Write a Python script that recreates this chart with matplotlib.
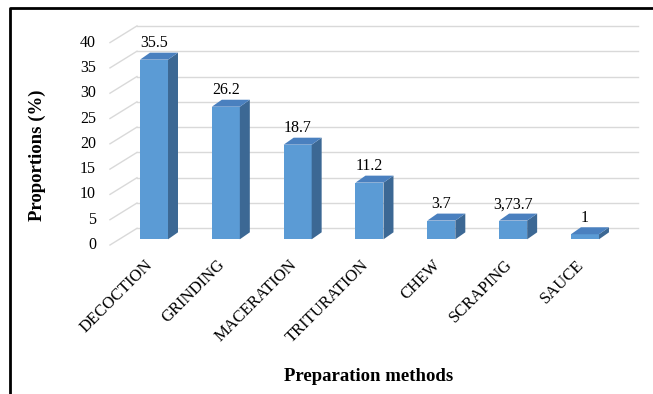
import matplotlib.pyplot as plt
from matplotlib.patches import Polygon
from matplotlib.lines import Line2D
import numpy as np

plt.rcParams['font.family'] = ['Liberation Serif', 'DejaVu Serif']

methods = ['DECOCTION', 'GRINDING', 'MACERATION', 'TRITURATION', 'CHEW', 'SCRAPING', 'SAUCE']
proportions = [35.5, 26.2, 18.7, 11.2, 3.7, 3.7, 1]
value_labels = ['35.5', '26.2', '18.7', '11.2', '3.7', '3,7' + '3.7', '1']
yticks = np.arange(0, 45, 5)

# colours of the three visible faces of each bar
front_col = '#5b9bd5'
top_col = '#4a80bf'
side_col = '#3c6894'
grid_col = '#d9d9d9'

# oblique projection offsets (x in category units, y in value units)
bar_w = 0.39
bar_dx, bar_dy = 0.139, 1.38      # depth of a bar
wall_dy = 2.17                    # back wall behind bar front
front_dx, front_dy = -0.376, -1.13 - 2.17  # front edge relative to back wall

fig = plt.figure(figsize=(6.53, 3.94), dpi=100)
ax = fig.add_axes([0, 0, 1, 1])
ax.set_xlim(-2.144, 6.947)
ax.set_ylim(-30.57, 47.29)
ax.axis('off')

# gridlines on the back wall and the side wall
wall_x0, wall_x1 = -0.237, 6.738
for v in yticks:
    yb = v + wall_dy
    ax.plot([wall_x0, wall_x1], [yb, yb], color=grid_col, lw=1, zorder=1)
    ax.plot([wall_x0 + front_dx, wall_x0], [yb + front_dy, yb], color=grid_col, lw=1, zorder=1)
    ax.text(wall_x0 + front_dx - 0.195, yb + front_dy, str(v), ha='right', va='center', fontsize=11.5)

x = np.arange(len(methods))
ax.bar(x, proportions, width=bar_w, color=front_col, zorder=3)
for i, v in zip(x, proportions):
    r = i + bar_w / 2
    l = i - bar_w / 2
    ax.add_patch(Polygon([(r, 0), (r + bar_dx, bar_dy), (r + bar_dx, v + bar_dy), (r, v)],
                         closed=True, facecolor=side_col, edgecolor='none', zorder=3))
    ax.add_patch(Polygon([(l, v), (r, v), (r + bar_dx, v + bar_dy), (l + bar_dx, v + bar_dy)],
                         closed=True, facecolor=top_col, edgecolor='none', zorder=3))

for i, v, lab in zip(x, proportions, value_labels):
    ax.text(i, v + bar_dy + 1.85, lab, ha='center', va='center', fontsize=11.5, zorder=4)

for i, name in zip(x, methods):
    ax.text(i - 0.05, -4.6, name, ha='right', va='center', rotation=45,
            rotation_mode='anchor', fontsize=12)

ax.text(-1.629, 16.66, 'Proportions (%)', rotation=90, ha='center', va='center',
        fontsize=13.5, fontweight='bold')
ax.text(2.993, -27.2, 'Preparation methods', ha='center', va='center',
        fontsize=13.5, fontweight='bold')

# chart frame
fig.add_artist(Line2D([10 / 653, 10 / 653, 1], [0, 1 - 8 / 394, 1 - 8 / 394],
                      color='black', lw=2, transform=fig.transFigure))

fig.savefig('out.png', dpi=100)
